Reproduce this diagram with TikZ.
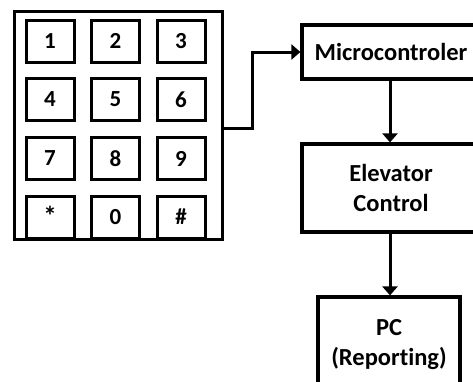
\documentclass[tikz,border=0pt]{standalone}
\usepackage{fontspec}
\setmainfont{Carlito}[Ligatures=CommonOff]
\usetikzlibrary{arrows.meta}
\begin{document}
\begin{tikzpicture}[x=1pt,y=-1pt,
  box/.style={draw=black,line width=3.2pt,rectangle,inner sep=0pt,align=center,
    font=\fontsize{24.5}{30}\selectfont\bfseries},
  keybox/.style={draw=black,line width=3pt,rectangle,inner sep=0pt,
    minimum width=48pt,minimum height=42pt,font=\fontsize{23}{26}\selectfont\bfseries},
  conn/.style={line width=3pt,-{Triangle[length=9pt,width=15pt]}}]
\useasboundingbox (0,0) rectangle (473,381);
\clip (0,0) rectangle (473,381);
\node[draw=black,line width=3pt,rectangle,minimum width=208pt,minimum height=228pt,inner sep=0pt] (pad) at (118,125) {};
\node[keybox] (k1) at (50,41) {1};
\node[keybox] (k2) at (115.5,41) {2};
\node[keybox] (k3) at (181,41) {3};
\node[keybox] (k4) at (50,99.5) {4};
\node[keybox] (k5) at (115.5,99.5) {5};
\node[keybox] (k6) at (181,99.5) {6};
\node[keybox] (k7) at (50,158.5) {7};
\node[keybox] (k8) at (115.5,158.5) {8};
\node[keybox] (k9) at (181,158.5) {9};
\node[keybox] (ks) at (50,217) {\raisebox{3pt}{\fontsize{27}{27}\selectfont *}};
\node[keybox] (k0) at (115.5,217) {0};
\node[keybox] (kh) at (181,217) {\#};
\node[box,minimum width=178pt,minimum height=54pt] (mc) at (391,52) {Microcontroler};
\node[box,minimum width=178pt,minimum height=88pt] (ec) at (391,188) {Elevator\\Control};
\node[box,minimum width=142pt,minimum height=96pt] (pc) at (389,345) {PC\\(Reporting)};
\coordinate (j) at (252,128);
\draw[conn] (pad.east |- j) -- (j) |- (mc.west);
\draw[conn] (mc.south -| 390,0) -- (ec.north -| 390,0);
\draw[conn] (ec.south -| 390,0) -- (pc.north -| 390,0);
\end{tikzpicture}
\end{document}
